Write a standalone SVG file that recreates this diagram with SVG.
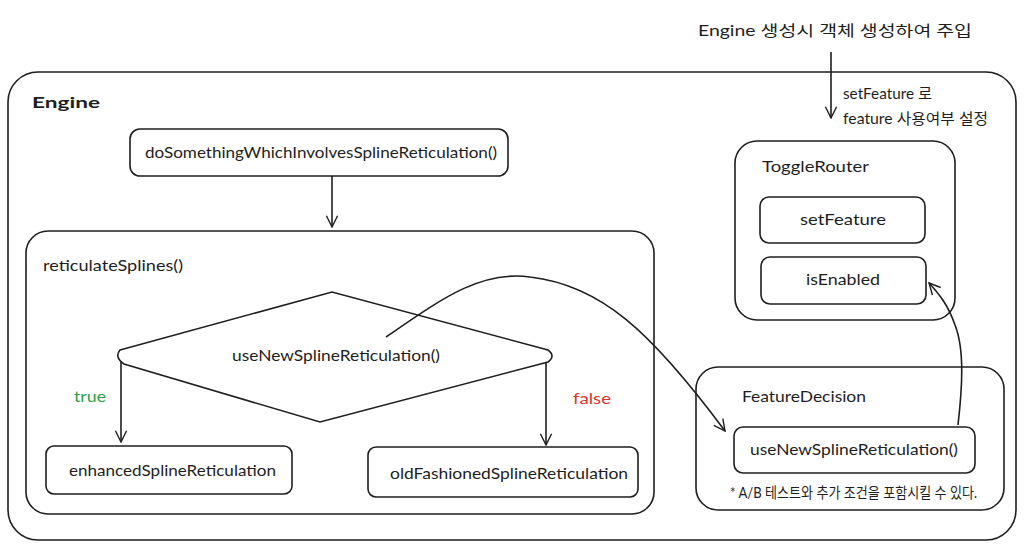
<svg xmlns="http://www.w3.org/2000/svg" width="1024" height="550" viewBox="0 0 1024 550">
<defs>
<style>
.box{fill:none;stroke:#1e1e1e;stroke-width:1.6}
.t{font-family:"Lato","Noto Sans CJK KR",sans-serif;font-size:15px;fill:#1e1e1e}
.c{text-anchor:middle}
.ln{fill:none;stroke:#1e1e1e;stroke-width:1.6}
</style>
<marker id="ah" viewBox="0 0 20 20" refX="18" refY="10" markerWidth="14" markerHeight="14" markerUnits="userSpaceOnUse" orient="auto">
<path d="M2,2 L18,10 L2,18" fill="none" stroke="#1e1e1e" stroke-width="2"/>
</marker>
</defs>
<rect width="1024" height="550" fill="#ffffff"/>

<g id="engine">
<rect class="box" x="8" y="72" width="1008" height="468" rx="30" stroke-width="2"/>
<text class="t" x="32" y="108" font-size="18" font-weight="bold" textLength="68" lengthAdjust="spacingAndGlyphs">Engine</text>
</g>

<g id="doSomething">
<rect class="box" x="130" y="129" width="378" height="47" rx="10"/>
<text class="t" x="145" y="158" textLength="352" lengthAdjust="spacingAndGlyphs">doSomethingWhichInvolvesSplineReticulation()</text>
</g>

<g id="reticulateSplines">
<rect class="box" x="26" y="231" width="628" height="283" rx="22"/>
<text class="t" x="43" y="271" textLength="140" lengthAdjust="spacingAndGlyphs">reticulateSplines()</text>
</g>

<g id="decision">
<path class="box" d="M120,350 L332,292 L548,350 Q556,356 548,362 L320,422 L124,364 Q114,357 120,350 Z"/>
<text class="t" x="232" y="361" textLength="208" lengthAdjust="spacingAndGlyphs">useNewSplineReticulation()</text>
</g>

<g id="enhanced">
<rect class="box" x="46" y="446" width="246" height="48" rx="8"/>
<text class="t" x="69" y="476" textLength="207" lengthAdjust="spacingAndGlyphs">enhancedSplineReticulation</text>
</g>

<g id="oldFashioned">
<rect class="box" x="368" y="447" width="270" height="50" rx="8"/>
<text class="t" x="390" y="479" textLength="238" lengthAdjust="spacingAndGlyphs">oldFashionedSplineReticulation</text>
</g>

<g id="toggleRouter">
<rect class="box" x="735" y="141" width="220" height="179" rx="22"/>
<text class="t" x="762" y="172" textLength="107" lengthAdjust="spacingAndGlyphs">ToggleRouter</text>
</g>

<g id="setFeature">
<rect class="box" x="760" y="197" width="165" height="46" rx="9"/>
<text class="t" x="800" y="225" textLength="86" lengthAdjust="spacingAndGlyphs">setFeature</text>
</g>

<g id="isEnabled">
<rect class="box" x="761" y="257" width="165" height="47" rx="9"/>
<text class="t" x="806" y="285" textLength="74" lengthAdjust="spacingAndGlyphs">isEnabled</text>
</g>

<g id="featureDecision">
<rect class="box" x="696" y="367" width="308" height="143" rx="22"/>
<text class="t" x="742" y="402" textLength="124" lengthAdjust="spacingAndGlyphs">FeatureDecision</text>
<text class="t" x="730" y="498" font-size="12" textLength="247" lengthAdjust="spacingAndGlyphs">* A/B 테스트와 추가 조건을 포함시킬 수 있다.</text>
</g>

<g id="useNewFD">
<rect class="box" x="734" y="427" width="241" height="46" rx="9"/>
<text class="t" x="750" y="455" textLength="208" lengthAdjust="spacingAndGlyphs">useNewSplineReticulation()</text>
</g>

<g id="injection">
<text class="t" x="698" y="36" font-size="18" textLength="274" lengthAdjust="spacingAndGlyphs">Engine 생성시 객체 생성하여 주입</text>
<text class="t" x="843" y="99" font-size="14" textLength="89" lengthAdjust="spacingAndGlyphs">setFeature 로</text>
<text class="t" x="843" y="124" font-size="14" textLength="145" lengthAdjust="spacingAndGlyphs">feature 사용여부 설정</text>
</g>

<g id="connectors">
<path class="ln" d="M332,176 L332,227" marker-end="url(#ah)"/>
<path class="ln" d="M121,361 L121,442" marker-end="url(#ah)"/>
<path class="ln" d="M546,362 L546,445" marker-end="url(#ah)"/>
<path class="ln" d="M831,52 L831,118" marker-end="url(#ah)"/>
<path class="ln" stroke-width="2" d="M386,337 C440,300 480,270 530,277 C600,285 650,330 725,431" marker-end="url(#ah)"/>
<path class="ln" d="M958,425 C962,390 965,350 955,325 C948,305 940,295 929,283" marker-end="url(#ah)"/>
<text class="t" x="74" y="402" fill="#2f9e44" style="fill:#2f9e44" textLength="32" lengthAdjust="spacingAndGlyphs">true</text>
<text class="t" x="573" y="404" style="fill:#e03131" textLength="38" lengthAdjust="spacingAndGlyphs">false</text>
</g>
</svg>
